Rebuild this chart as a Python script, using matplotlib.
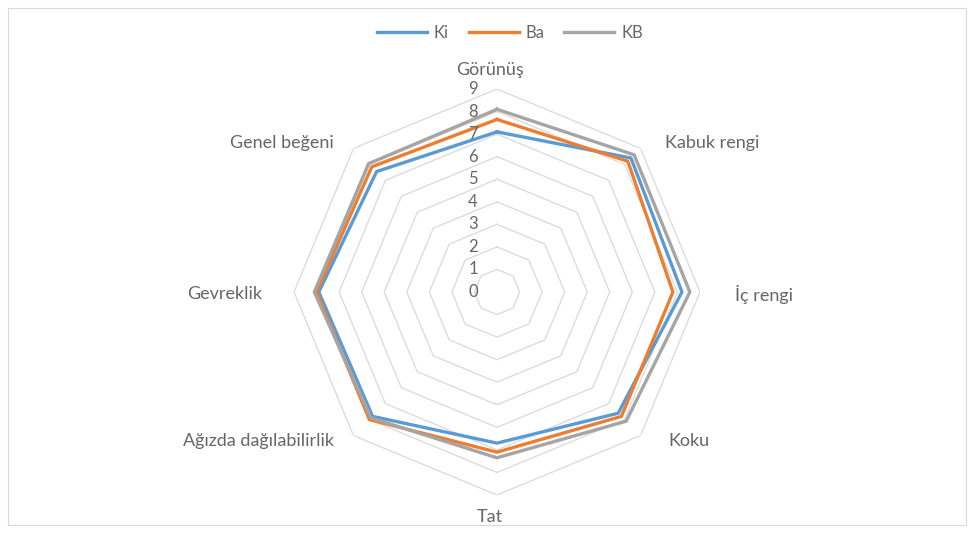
import numpy as np
import matplotlib.pyplot as plt
import matplotlib.transforms as mtrans
from matplotlib.patches import Rectangle

categories = ['Görünüş', 'Kabuk rengi', 'İç rengi', 'Koku', 'Tat',
              'Ağızda dağılabilirlik', 'Gevreklik', 'Genel beğeni']
ki = [7.1, 8.4, 8.2, 7.6, 6.7, 7.8, 7.9, 7.55]
ba = [7.65, 8.2, 7.8, 7.8, 7.1, 8.0, 8.0, 7.85]
kb = [8.1, 8.6, 8.55, 8.1, 7.35, 7.9, 8.1, 8.05]
series = {'Ki': ki, 'Ba': ba, 'KB': kb}
colors = {'Ki': '#5B9BD5', 'Ba': '#ED7D31', 'KB': '#A5A5A5'}
levels = list(range(0, 10))

plt.rcParams['font.family'] = ['Lato', 'DejaVu Sans']
txt = '#666666'

fig = plt.figure(figsize=(9.74, 5.33), dpi=100)
fig.patches.append(Rectangle((0.008, 0.015), 0.984, 0.97, transform=fig.transFigure,
                             fill=False, edgecolor='#d9d9d9', linewidth=0.8))

# center ~ (497, 292) px, radius of ring 9 ~ 203 px
cx, cy, R = 497, 292, 203
ax = fig.add_axes([(cx - R) / 974, (533 - cy - R) / 533, 2 * R / 974, 2 * R / 533],
                  projection='polar')
ax.set_theta_offset(np.pi / 2)
ax.set_theta_direction(-1)
ax.set_ylim(0, 9)
ax.grid(False)
ax.spines['polar'].set_visible(False)
ax.set_xticks([])
ax.set_yticks([])
ax.patch.set_alpha(0)

n = len(categories)
angles = np.linspace(0, 2 * np.pi, n, endpoint=False)
closed = np.append(angles, angles[0])

# polygon gridlines
for lv in levels[1:]:
    ax.plot(closed, [lv] * (n + 1), color='#dcdcdc', linewidth=1, zorder=1)

# series
for name, vals in series.items():
    ax.plot(closed, list(vals) + [vals[0]], color=colors[name], linewidth=2.4,
            label=name, zorder=3)

# value labels, left of the vertical axis
off = mtrans.offset_copy(ax.transData, fig=fig, x=-24, y=0, units='dots')
for lv in levels:
    ax.text(0, lv, str(lv), transform=off, ha='center', va='center',
            fontsize=12, color=txt)

# category labels
label_pos = {
    'Görünüş': (490, 70, 'center'),
    'Kabuk rengi': (665, 143, 'left'),
    'İç rengi': (735, 294, 'left'),
    'Koku': (668, 441, 'left'),
    'Tat': (490, 517, 'center'),
    'Ağızda dağılabilirlik': (334, 441, 'right'),
    'Gevreklik': (262, 294, 'right'),
    'Genel beğeni': (334, 143, 'right'),
}
for c in categories:
    x, y, ha = label_pos[c]
    fig.text(x / 974, 1 - y / 533, c, ha=ha, va='center', fontsize=13, color=txt)

fig.legend(loc='center', bbox_to_anchor=(510 / 974, 1 - 33 / 533), ncol=3, frameon=False,
           fontsize=12, handlelength=3.0, columnspacing=1.2, handletextpad=0.4,
           labelcolor=txt)

fig.savefig('out.png', dpi=100)
